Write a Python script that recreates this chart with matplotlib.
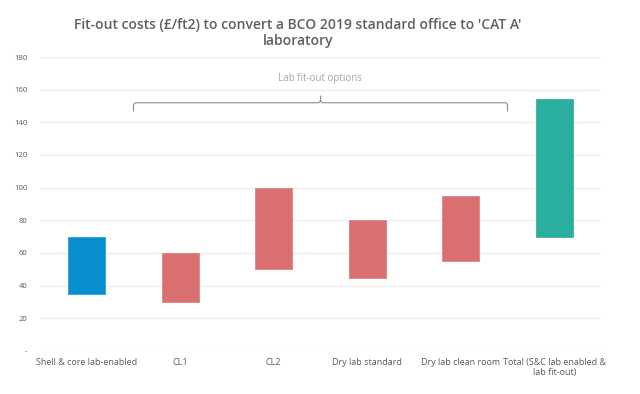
import matplotlib
matplotlib.use("Agg")
import matplotlib.pyplot as plt

# Fit-out cost ranges (GBP per ft2)
categories = ["Shell & core lab-enabled", "CL1", "CL2", "Dry lab standard",
              "Dry lab clean room", "Total (S&C lab enabled &\nlab fit-out)"]
low = [35, 30, 50, 45, 55, 70]
high = [70, 60, 100, 80, 95, 154]
colours = ["#088fcf", "#d96f6f", "#d96f6f", "#d96f6f", "#d96f6f", "#2aae9e"]
edges = ["#3ba3d8", "#e38a8a", "#e38a8a", "#e38a8a", "#e38a8a", "#45b8aa"]

yticks = [0, 20, 40, 60, 80, 100, 120, 140, 160, 180]
ytick_labels = ["-", "20", "40", "60", "80", "100", "120", "140", "160", "180"]

plt.rcParams['font.family'] = ['Open Sans', 'DejaVu Sans']

fig = plt.figure(figsize=(6.4, 3.94), dpi=100)
ax = fig.add_axes([40 / 640, 1 - 351 / 394, 561 / 640, 294 / 394])

x = list(range(len(categories)))
heights = [h - l for l, h in zip(low, high)]
ax.bar(x, heights, bottom=low, width=0.4, color=colours, edgecolor=edges,
       linewidth=0.7, zorder=3)

ax.set_xlim(-0.5, len(categories) - 0.5)
ax.set_ylim(0, 180)
ax.set_yticks(yticks)
ax.set_yticklabels(ytick_labels)
ax.set_xticks(x)
ax.set_xticklabels(categories)
ax.tick_params(axis='both', length=0, colors="#595959", labelsize=6.5)
ax.tick_params(axis='x', pad=5)
ax.tick_params(axis='y', pad=9)
for lbl in ax.get_yticklabels():
    lbl.set_fontsize(5.5)
ax.grid(axis='y', color="#ececec", linewidth=0.9, zorder=0)
for s in ax.spines.values():
    s.set_visible(False)

# brace over the lab fit-out options
bx = [0.5, 0.5, 0.52, 2.48, 2.5, 2.5, 2.5, 2.52, 4.48, 4.5, 4.5]
by = [147, 151, 152, 152, 153, 156, 153, 152, 152, 151, 147]
ax.plot(bx, by, color="#8c8c8c", linewidth=0.8, zorder=4)
ax.text(2.5, 167, "Lab fit-out options", ha='center', va='center',
        fontsize=7, color="#a6a6a6")

fig.text(298 / 640, 1 - 33 / 394,
         "Fit-out costs (\u00a3/ft2) to convert a BCO 2019 standard office to 'CAT A'\nlaboratory",
         ha='center', va='center', fontsize=10, color="#5f5f5f",
         fontweight='semibold', linespacing=1.15)

fig.savefig("out.png", dpi=100)
